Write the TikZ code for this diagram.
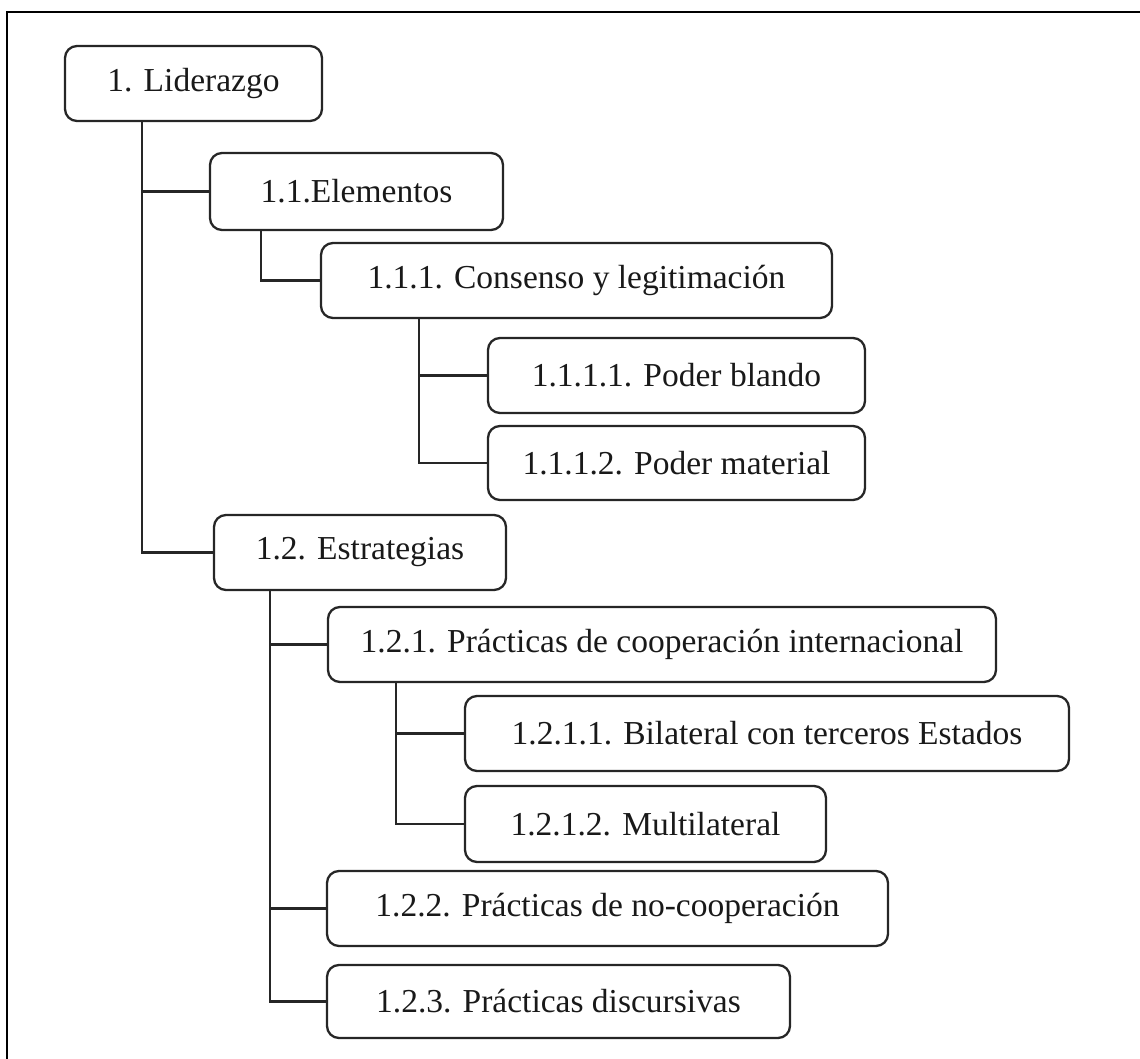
\documentclass[tikz,border=0pt]{standalone}
\usepackage{fontspec}
\setmainfont{Liberation Serif}
\begin{document}
\begin{tikzpicture}[x=1pt,y=-1pt,
  box/.style={draw=black!85, line width=2.3pt, rounded corners=12pt, inner sep=0pt,
    text=black!90, font=\fontsize{33.5}{38}\selectfont},
  conn/.style={draw=black!85, line width=2.3pt}]
\useasboundingbox (0,0) rectangle (1140,1059);
\draw[line width=2.2pt] (7,1059) -- (7,12) -- (1140,12);

\node[box, minimum width=257pt, minimum height=75pt] (L)  at (193.5,83.5) {1. Liderazgo};
\node[box, minimum width=293pt, minimum height=77pt] (E)  at (356.5,191.5) {1.1.Elementos};
\node[box, minimum width=511pt, minimum height=75pt] (C)  at (576.5,280.5) {1.1.1. Consenso y legitimación};
\node[box, minimum width=377pt, minimum height=75pt] (PB) at (676.5,375.5) {1.1.1.1. Poder blando};
\node[box, minimum width=377pt, minimum height=74pt] (PM) at (676.5,463) {1.1.1.2. Poder material};
\node[box, minimum width=292pt, minimum height=75pt] (ES) at (360,552.5) {1.2. Estrategias};
\node[box, minimum width=668pt, minimum height=75pt] (CO) at (662,644.5) {1.2.1. Prácticas de cooperación internacional};
\node[box, minimum width=604pt, minimum height=75pt] (BI) at (767,733.5) {1.2.1.1. Bilateral con terceros Estados};
\node[box, minimum width=361pt, minimum height=76pt] (MU) at (645.5,824) {1.2.1.2. Multilateral};
\node[box, minimum width=561pt, minimum height=75pt] (NC) at (607.5,908.5) {1.2.2. Prácticas de no-cooperación};
\node[box, minimum width=463pt, minimum height=73pt] (DI) at (558.5,1001.5) {1.2.3. Prácticas discursivas};

\coordinate (lL)  at ([xshift=78pt]L.south west);
\coordinate (lE)  at ([xshift=52pt]E.south west);
\coordinate (lC)  at ([xshift=99pt]C.south west);
\coordinate (lES) at ([xshift=57pt]ES.south west);
\coordinate (lCO) at ([xshift=69pt]CO.south west);

\draw[conn] (lL) |- (ES.west);
\draw[conn] (lL |- E.west) -- (E.west);
\draw[conn] (lE) |- (C.west);
\draw[conn] (lC) |- (PM.west);
\draw[conn] (lC |- PB.west) -- (PB.west);
\draw[conn] (lES) |- (DI.west);
\draw[conn] (lES |- CO.west) -- (CO.west);
\draw[conn] (lES |- NC.west) -- (NC.west);
\draw[conn] (lCO) |- (MU.west);
\draw[conn] (lCO |- BI.west) -- (BI.west);
\end{tikzpicture}
\end{document}
